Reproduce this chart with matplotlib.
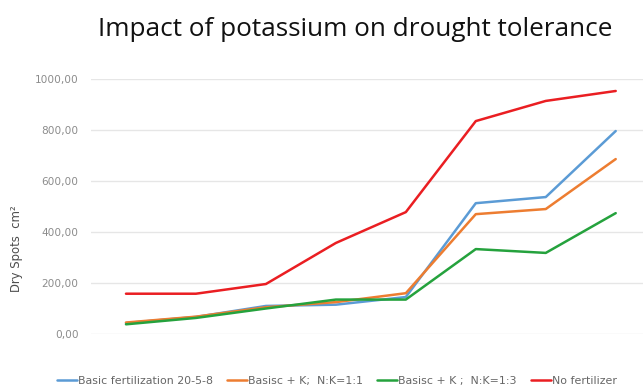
import matplotlib
matplotlib.use("Agg")
import matplotlib.pyplot as plt
from matplotlib.ticker import FuncFormatter

# Eight measurement stages (unlabelled on the x axis)
stages = list(range(8))

series_names = [
    "Basic fertilization 20-5-8",
    "Basisc + K;  N:K=1:1",
    "Basisc + K ;  N:K=1:3",
    "No fertilizer",
]
basic_fert = [43, 67, 110, 115, 145, 513, 537, 796]
basic_k_11 = [45, 68, 105, 125, 160, 470, 490, 686]
basic_k_13 = [38, 63, 100, 135, 135, 333, 318, 474]
no_fert = [158, 158, 196, 357, 478, 835, 914, 953]

y_ticks = [0, 200, 400, 600, 800, 1000]
colors = ["#5B9BD5", "#ED7D31", "#25A23D", "#EA1E22"]

plt.rcParams["font.family"] = ["DejaVu Sans"]

fig = plt.figure(figsize=(6.43, 3.92), dpi=100)
W, H = 643, 392
left, right, bottom, top = 91, 643, 334, 79
ax = fig.add_axes([left / W, (H - bottom) / H, (right - left) / W, (bottom - top) / H])

for vals, name, c in zip([basic_fert, basic_k_11, basic_k_13, no_fert], series_names, colors):
    ax.plot(stages, vals, color=c, lw=1.8, label=name, solid_capstyle="round",
            solid_joinstyle="round", clip_on=False)

ax.set_xlim(-0.5, 7.39)
ax.set_ylim(0, 1000)
ax.set_yticks(y_ticks)
ax.yaxis.set_major_formatter(FuncFormatter(lambda v, p: f"{v:.2f}".replace(".", ",")))
ax.grid(axis="y", color="#E6E6E6", lw=1.0)
ax.set_xticks([])
ax.tick_params(axis="y", length=0, pad=9, labelsize=7.6, labelcolor="#8C8C8C")
for s in ax.spines.values():
    s.set_visible(False)
ax.set_axisbelow(True)

fig.text(355 / W, 1 - 29 / H, "Impact of potassium on drought tolerance",
         ha="center", va="center", fontsize=18.8, color="#111111", family="Open Sans")
fig.text(17 / W, 1 - 249 / H, "Dry Spots  cm²", rotation=90, ha="center", va="center",
         fontsize=8.4, color="#4D4D4D")

fig.legend(loc="center", bbox_to_anchor=(337 / W, 1 - 381 / H), ncol=4, frameon=False,
           fontsize=7.9, handlelength=1.8, handletextpad=0.1, columnspacing=1.3,
           labelcolor="#666666")

fig.savefig("out.png", dpi=100)
